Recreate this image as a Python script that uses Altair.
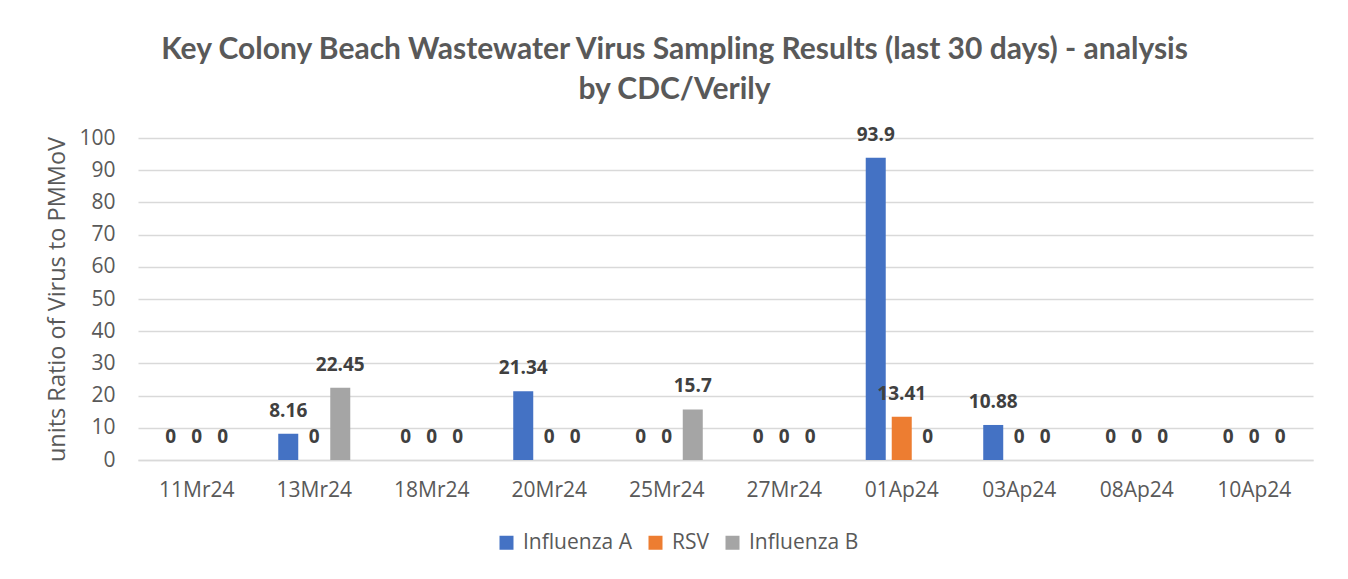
import altair as alt
import pandas as pd

dates = ["11Mr24", "13Mr24", "18Mr24", "20Mr24", "25Mr24",
         "27Mr24", "01Ap24", "03Ap24", "08Ap24", "10Ap24"]
series = ["Influenza A", "RSV", "Influenza B"]
flu_a = [0, 8.16, 0, 21.34, 0, 0, 93.9, 10.88, 0, 0]
rsv = [0, 0, 0, 0, 0, 0, 13.41, 0, 0, 0]
flu_b = [0, 22.45, 0, 0, 15.7, 0, 0, 0, 0, 0]
colors = ["#4472C4", "#ED7D31", "#A5A5A5"]
y_ticks = list(range(0, 101, 10))

rows = []
for name, vals in zip(series, [flu_a, rsv, flu_b]):
    for d, v in zip(dates, vals):
        rows.append({"date": d, "series": name, "value": v, "label": f"{v:g}"})
df = pd.DataFrame(rows)

FONT = "Open Sans"

x_enc = alt.X("date:N", sort=dates, title=None,
              scale=alt.Scale(paddingInner=0.387, paddingOuter=0.1936),
              axis=alt.Axis(labelAngle=0, labelFontSize=21, labelColor="#595959",
                            labelFont=FONT, labelPadding=19, ticks=False,
                            domainColor="#D9D9D9", domainWidth=1.5, grid=False))
xoff = alt.XOffset("series:N", sort=series,
                   scale=alt.Scale(paddingInner=0.2308, paddingOuter=0))
y_enc = alt.Y("value:Q", scale=alt.Scale(domain=[0, 100], nice=False),
              axis=alt.Axis(values=y_ticks, title="units Ratio of Virus to PMMoV",
                            titleFontSize=23.5, titleFont=FONT, titleFontWeight="normal",
                            titleColor="#595959", titleX=-81, titleY=161,
                            titleAngle=-90, titleAlign="center", titleBaseline="middle",
                            labelFontSize=21, labelColor="#595959", labelFont=FONT,
                            labelPadding=23, ticks=False, domain=False,
                            labelOverlap=False, labelBound=False,
                            gridColor="#D9D9D9", gridWidth=1.5))

bars = alt.Chart(df).mark_bar().encode(
    x=x_enc, xOffset=xoff, y=y_enc,
    color=alt.Color("series:N", sort=series,
                    scale=alt.Scale(domain=series, range=colors),
                    legend=alt.Legend(title=None, orient="none", direction="horizontal",
                                      legendX=358, legendY=394,
                                      symbolType="square", symbolSize=196,
                                      symbolStrokeWidth=0, labelFontSize=21,
                                      labelFont=FONT, labelColor="#595959",
                                      labelOffset=6, columnPadding=13)),
)

labels = alt.Chart(df).mark_text(
    font=FONT, fontSize=19, fontWeight="bold", color="#404040",
    baseline="alphabetic", dy=-17,
).encode(x=x_enc, xOffset=xoff, y=y_enc, text="label:N")

chart = (bars + labels).properties(
    width=1175, height=322,
    autosize=alt.AutoSizeParams(type="none"),
    padding={"left": 130, "top": 130, "right": 27, "bottom": 100},
    title=alt.TitleParams(
        text=["Key Colony Beach Wastewater Virus Sampling Results (last 30 days) - analysis",
              "by CDC/Verily"],
        font="Lato", fontSize=30, fontWeight="bold", color="#595959",
        lineHeight=40, anchor="middle", dx=-51, offset=21),
).configure_view(stroke=None)

chart.save("out.html", embed_options={"renderer": "svg", "actions": False})
